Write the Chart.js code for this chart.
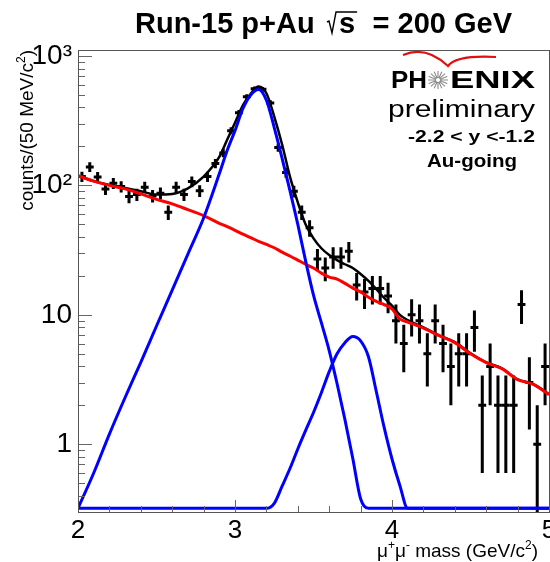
<!DOCTYPE html>
<html>
<head>
<meta charset="utf-8">
<script src="https://cdn.jsdelivr.net/npm/chart.js@4.4.0/dist/chart.umd.min.js"></script>
<style>
    html, body { margin: 0; padding: 0; background: #fff; }
</style>
</head>
<body>
<canvas id="massChart" width="550" height="562"></canvas>
<script>
// Dimuon mass spectrum, 50 MeV bins.
const binCenters = [2.025, 2.075, 2.125, 2.175, 2.225, 2.275, 2.325, 2.375, 2.425, 2.475,
    2.525, 2.575, 2.625, 2.675, 2.725, 2.775, 2.825, 2.875, 2.925, 2.975,
    3.025, 3.075, 3.125, 3.175, 3.225, 3.275, 3.325, 3.375, 3.425, 3.475,
    3.525, 3.575, 3.625, 3.675, 3.725, 3.775, 3.825, 3.875, 3.925, 3.975,
    4.025, 4.075, 4.125, 4.175, 4.225, 4.275, 4.325, 4.375, 4.425, 4.475,
    4.525, 4.575, 4.625, 4.675, 4.725, 4.775, 4.825, 4.875, 4.925, 4.975];
const counts = [117, 139, 116, 94, 104, 98, 82, 85, 97, 83,
    87, 62, 97, 85, 107, 91, 117, 148, 178, 265,
    364, 484, 557, 552, 434, 196, 126, 90, 62, 47,
    27, 23, 28, 28, 31, 17, 15, 16, 16, 14,
    9, 6, 10, 9, 5, 9, 6, 4, 5, 5,
    8, 2, 4, 2, 2, 2, 12, 3, 1, 4];
const countErrors = [10.8, 11.8, 10.8, 9.7, 10.2, 9.9, 9.1, 9.2, 9.8, 9.1,
    9.3, 7.9, 9.8, 9.2, 10.3, 9.5, 10.8, 12.2, 13.3, 16.3,
    19.1, 22.0, 23.6, 23.5, 20.8, 14.0, 11.2, 9.5, 7.9, 6.9,
    5.2, 4.8, 5.3, 5.3, 5.6, 4.1, 3.9, 4.0, 4.0, 3.7,
    3.0, 2.4, 3.2, 3.0, 2.2, 3.0, 2.4, 2.0, 2.2, 2.2,
    2.8, 1.4, 2.0, 1.4, 1.4, 1.4, 3.5, 1.7, 1.0, 2.0];

// Fit curves, read at these masses (values under the axis floor sit on it).
const fitMass = [2.0, 2.1, 2.2, 2.3, 2.4, 2.5, 2.6, 2.7, 2.8, 2.9,
    2.95, 3.0, 3.05, 3.1, 3.15, 3.2, 3.25, 3.3, 3.35, 3.4,
    3.45, 3.5, 3.55, 3.6, 3.65, 3.7, 3.75, 3.8, 3.85, 3.9,
    3.95, 4.0, 4.05, 4.1, 4.2, 4.3, 4.4, 4.5, 4.6, 4.7,
    4.8, 4.9, 5.0];
const fitTotal = [119, 108, 101, 95.5, 90, 85, 86, 95, 117, 166,
    225, 305, 415, 510, 580, 515, 340, 207, 117, 74,
    50, 39, 32.7, 29, 26.5, 24.6, 23, 20.7, 18.3, 15.8,
    13.5, 11.8, 10, 9.1, 8.0, 6.95, 6.15, 5.05, 4.3, 3.87,
    3.18, 2.92, 2.44];
const fitBackground = [119, 108, 100, 94, 86, 78, 72, 65, 58.5, 51,
    48, 45, 42, 39.5, 37, 35, 33, 30.5, 28.5, 26.5,
    24.6, 23, 21, 19.6, 18.9, 17.5, 16.1, 15, 13.7, 12.7,
    12, 11.1, 9.3, 8.8, 7.9, 6.9, 6.1, 5.0, 4.27, 3.84,
    3.16, 2.9, 2.42];
const fitJpsi = [0.32, 0.6, 1.2, 2.3, 4.3, 8.2, 15.5, 29.5, 56, 123,
    186, 265, 391, 500, 550, 455, 280, 162, 91, 50,
    26, 14.2, 8.7, 5.3, 2.95, 1.56, 0.78, 0.38, 0.32, 0.32,
    0.32, 0.32, 0.32, 0.32, 0.32, 0.32, 0.32, 0.32, 0.32, 0.32,
    0.32, 0.32, 0.32];
const fitPsi2s = [0.32, 0.32, 0.32, 0.32, 0.32, 0.32, 0.32, 0.32, 0.32, 0.32,
    0.32, 0.32, 0.32, 0.32, 0.32, 0.32, 0.35, 0.475, 0.65, 0.92,
    1.28, 1.76, 2.5, 3.64, 5.0, 6.1, 6.8, 6.3, 4.75, 2.56,
    1.35, 0.77, 0.48, 0.32, 0.32, 0.32, 0.32, 0.32, 0.32, 0.32,
    0.32, 0.32, 0.32];

const xTickValues = [2, 3, 4, 5];
const yTickValues = [1, 10, 100, 1000];
const yTickLabels = ['1', '10', '10²', '10³'];

const FAM = '"Liberation Sans", Arial, Helvetica, sans-serif';
Chart.defaults.font.family = FAM;

function toPoints(xs, ys) {
    return xs.map((m, i) => ({ x: m, y: ys[i] }));
}

// text with raised small parts, like ROOT's ^{}
function drawRich(ctx, parts, x, y, size, bold, align) {
    const fontFor = p => (bold ? 'bold ' : '') + (p.sup ? Math.round(size * 0.65) : size) + 'px ' + FAM;
    let w = 0;
    parts.forEach(p => { ctx.font = fontFor(p); w += ctx.measureText(p.t).width; });
    let cx = align === 'right' ? x - w : x;
    ctx.textAlign = 'left';
    parts.forEach(p => {
        ctx.font = fontFor(p);
        ctx.fillText(p.t, cx, p.sup ? y - size * 0.42 : y);
        cx += ctx.measureText(p.t).width;
    });
}

// the logo is a stretched picture, so squeeze text into a given width
function fitText(ctx, text, font, left, baseline, width) {
    ctx.font = font;
    const w = ctx.measureText(text).width;
    ctx.save();
    ctx.translate(left, baseline);
    ctx.scale(width / w, 1);
    ctx.textAlign = 'left';
    ctx.fillText(text, 0, 0);
    ctx.restore();
}

const errorBars = {
    id: 'errorBars',
    beforeDatasetsDraw(chart) {
        const { ctx, chartArea, scales: { x, y } } = chart;
        ctx.save();
        ctx.beginPath();
        ctx.rect(chartArea.left, chartArea.top, chartArea.width, chartArea.height);
        ctx.clip();
        ctx.strokeStyle = '#000';
        ctx.lineWidth = 3;
        for (let i = 0; i < counts.length; i++) {
            const px = x.getPixelForValue(binCenters[i]);
            const left = x.getPixelForValue(binCenters[i] - 0.025);
            const right = x.getPixelForValue(binCenters[i] + 0.025);
            const py = y.getPixelForValue(counts[i]);
            const lo = counts[i] - countErrors[i];
            const top = y.getPixelForValue(counts[i] + countErrors[i]);
            const bot = lo > 0 ? y.getPixelForValue(lo) : chartArea.bottom + 2;
            ctx.beginPath();
            ctx.moveTo(px, top);
            ctx.lineTo(px, bot);
            ctx.moveTo(left, py);
            ctx.lineTo(right, py);
            ctx.stroke();
        }
        ctx.restore();
    }
};

const frameAndText = {
    id: 'frameAndText',
    afterDraw(chart) {
        const { ctx, chartArea: a, scales: { x, y } } = chart;
        ctx.save();

        // ticks inside the frame
        ctx.strokeStyle = '#666';
        ctx.lineWidth = 1;
        ctx.beginPath();
        for (let d = 0.1; d <= 1000; d *= 10) {
            for (let k = 1; k <= 9; k++) {
                const v = k * d;
                if (v < y.min || v > y.max) continue;
                const py = Math.round(y.getPixelForValue(v)) + 0.5;
                ctx.moveTo(a.left, py);
                ctx.lineTo(a.left + (k === 1 ? 14 : 7), py);
            }
        }
        for (let j = 0; j <= 15; j++) {
            const v = 2 + j * 0.2;
            const px = Math.round(x.getPixelForValue(v)) + 0.5;
            ctx.moveTo(px, a.bottom);
            ctx.lineTo(px, a.bottom - (j % 5 === 0 ? 12 : 6));
        }
        ctx.stroke();
        ctx.strokeStyle = '#555';
        ctx.strokeRect(a.left + 0.5, a.top + 0.5, a.right - a.left, a.bottom - a.top);

        ctx.fillStyle = '#000';
        ctx.textBaseline = 'alphabetic';

        // title
        ctx.font = 'bold 29px ' + FAM;
        ctx.textAlign = 'left';
        ctx.fillText('Run-15 p+Au', 135, 33);
        ctx.textAlign = 'right';
        ctx.fillText('= 200 GeV', 512, 33);
        const sx = 327;
        const sw = ctx.measureText('s').width;
        ctx.textAlign = 'left';
        ctx.fillText('s', sx + 12, 33);
        ctx.strokeStyle = '#000';
        ctx.lineWidth = 1.4;
        ctx.beginPath();
        ctx.moveTo(sx, 22);
        ctx.lineTo(sx + 2, 21);
        ctx.lineTo(sx + 5, 33);
        ctx.lineTo(sx + 9, 12);
        ctx.lineTo(sx + 14 + sw, 12);
        ctx.stroke();

        // axis titles
        drawRich(ctx, [{ t: 'μ' }, { t: '+', sup: true }, { t: 'μ' }, { t: '-', sup: true },
            { t: ' mass (GeV/c' }, { t: '2', sup: true }, { t: ')' }], 538, 557, 19, false, 'right');
        ctx.save();
        ctx.translate(33, 50);
        ctx.rotate(-Math.PI / 2);
        drawRich(ctx, [{ t: 'counts/(50 MeV/c' }, { t: '2', sup: true }, { t: ')' }], 0, 0, 19, false, 'right');
        ctx.restore();

        // PHENIX logo block
        ctx.strokeStyle = '#e01010';
        ctx.lineWidth = 2.2;
        ctx.beginPath();
        ctx.moveTo(403, 55);
        ctx.quadraticCurveTo(426, 45, 448, 66);
        ctx.quadraticCurveTo(456, 55, 496, 57);
        ctx.stroke();

        fitText(ctx, 'PH', 'bold 24px ' + FAM, 391, 88, 36);
        fitText(ctx, 'ENIX', 'bold 24px ' + FAM, 450, 88, 85);
        ctx.strokeStyle = '#8a8a8a';
        ctx.lineWidth = 1.1;
        ctx.beginPath();
        for (let r = 0; r < 16; r++) {
            const ang = r * Math.PI / 8;
            ctx.moveTo(438 + 2 * Math.cos(ang), 80 + 2 * Math.sin(ang));
            ctx.lineTo(438 + 10 * Math.cos(ang), 80 + 9 * Math.sin(ang));
        }
        ctx.stroke();
        fitText(ctx, 'preliminary', '23px ' + FAM, 388, 117, 147);
        fitText(ctx, '-2.2 < y <-1.2', 'bold 16px ' + FAM, 408, 142, 127);
        fitText(ctx, 'Au-going', 'bold 18px ' + FAM, 427, 167, 90);

        ctx.restore();
    }
};

const lineStyle = {
    type: 'line',
    showLine: true,
    pointRadius: 0,
    fill: false,
    cubicInterpolationMode: 'monotone'
};

new Chart(document.getElementById('massChart').getContext('2d'), {
    type: 'scatter',
    data: {
        datasets: [{
            label: 'data',
            data: toPoints(binCenters, counts),
            pointRadius: 0,
            order: 5
        }, {
            ...lineStyle,
            label: 'total fit',
            data: toPoints(fitMass, fitTotal),
            borderColor: '#000000',
            borderWidth: 2.5,
            order: 4
        }, {
            ...lineStyle,
            label: 'background',
            data: toPoints(fitMass, fitBackground),
            borderColor: '#ff0000',
            borderWidth: 3,
            order: 3
        }, {
            ...lineStyle,
            label: 'J/psi',
            data: toPoints(fitMass, fitJpsi),
            borderColor: '#0000ff',
            borderWidth: 3,
            order: 2
        }, {
            ...lineStyle,
            label: "psi'",
            data: toPoints(fitMass, fitPsi2s),
            borderColor: '#0000ff',
            borderWidth: 3,
            order: 1
        }]
    },
    options: {
        responsive: false,
        devicePixelRatio: 1,
        animation: false,
        events: [],
        layout: {
            autoPadding: false,
            padding: { top: 50, right: 1, left: 0, bottom: 0 }
        },
        plugins: {
            legend: { display: false },
            tooltip: { enabled: false },
            title: { display: false }
        },
        scales: {
            x: {
                type: 'linear',
                min: 2,
                max: 5,
                grid: { display: false, drawTicks: false },
                border: { display: false },
                afterBuildTicks: s => { s.ticks = xTickValues.map(v => ({ value: v })); },
                afterFit: s => { s.height = 50; s.paddingLeft = 0; s.paddingRight = 0; },
                ticks: {
                    autoSkip: false,
                    maxRotation: 0,
                    padding: 3,
                    color: '#000',
                    font: { size: 26 },
                    callback: v => String(v)
                }
            },
            y: {
                type: 'logarithmic',
                min: 0.31,
                max: 1112,
                grid: { display: false, drawTicks: false },
                border: { display: false },
                afterBuildTicks: s => { s.ticks = yTickValues.map(v => ({ value: v })); },
                afterFit: s => { s.width = 78; s.paddingTop = 0; s.paddingBottom = 0; },
                ticks: {
                    autoSkip: false,
                    padding: 6,
                    color: '#000',
                    font: { size: 28 },
                    callback: v => yTickLabels[yTickValues.indexOf(v)]
                }
            }
        }
    },
    plugins: [errorBars, frameAndText]
});
</script>
</body>
</html>
